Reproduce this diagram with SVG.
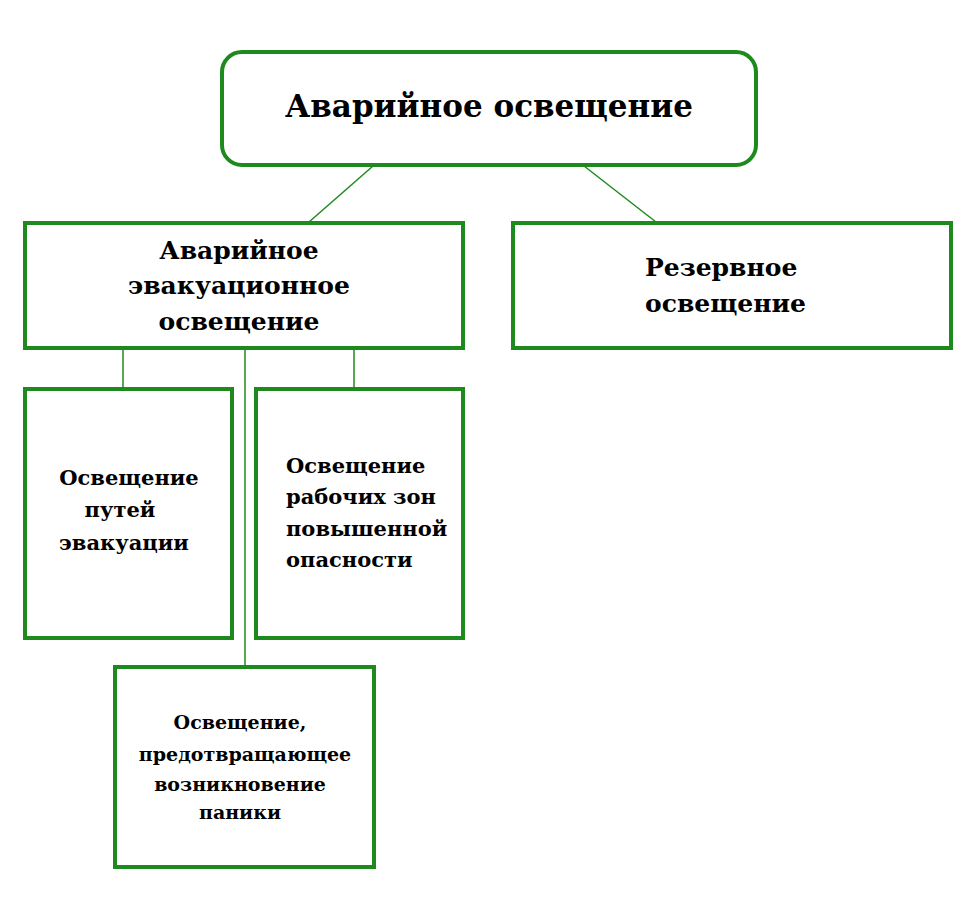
<svg xmlns="http://www.w3.org/2000/svg" width="975" height="918" viewBox="0 0 975 918">
<style>
.b{fill:#fff;stroke:#1e8a1e;stroke-width:4}
.c{stroke:#1e8a1e;stroke-width:1.5;fill:none}
text{font-family:"DejaVu Serif","Liberation Serif",serif;font-weight:bold;fill:#000}
</style>
<rect width="975" height="918" fill="#fff"/>
<g id="connectors">
<line class="c" x1="373" y1="166" x2="309" y2="222"/>
<line class="c" x1="584" y1="166" x2="656" y2="222"/>
<line class="c" x1="123" y1="349" x2="123" y2="388"/>
<line class="c" x1="245" y1="349" x2="245" y2="666"/>
<line class="c" x1="354" y1="349" x2="354" y2="388"/>
</g>
<g id="root"><rect class="b" x="222" y="52" width="534" height="113" rx="20"/>
<text x="489" y="117" font-size="31" text-anchor="middle">Аварийное освещение</text></g>
<g id="evac"><rect class="b" x="25" y="223" width="438" height="125"/>
<text font-size="25" text-anchor="middle"><tspan x="239" y="259">Аварийное</tspan><tspan x="239" y="294">эвакуационное</tspan><tspan x="239" y="330">освещение</tspan></text></g>
<g id="reserve"><rect class="b" x="513" y="223" width="438" height="125"/>
<text font-size="25"><tspan x="645" y="276">Резервное</tspan><tspan x="645" y="312">освещение</tspan></text></g>
<g id="paths"><rect class="b" x="25" y="389" width="207" height="249"/>
<text font-size="21" text-anchor="middle"><tspan x="129" y="485">Освещение</tspan><tspan x="120" y="517">путей</tspan><tspan x="124" y="550">эвакуации</tspan></text></g>
<g id="zones"><rect class="b" x="256" y="389" width="207" height="249"/>
<text font-size="21"><tspan x="286" y="473">Освещение</tspan><tspan x="286" y="504">рабочих зон</tspan><tspan x="286" y="536">повышенной</tspan><tspan x="286" y="567">опасности</tspan></text></g>
<g id="panic"><rect class="b" x="115" y="667" width="259" height="200"/>
<text font-size="19" text-anchor="middle"><tspan x="240" y="729">Освещение,</tspan><tspan x="245" y="761">предотвращающее</tspan><tspan x="240" y="791">возникновение</tspan><tspan x="240" y="819">паники</tspan></text></g>
</svg>
